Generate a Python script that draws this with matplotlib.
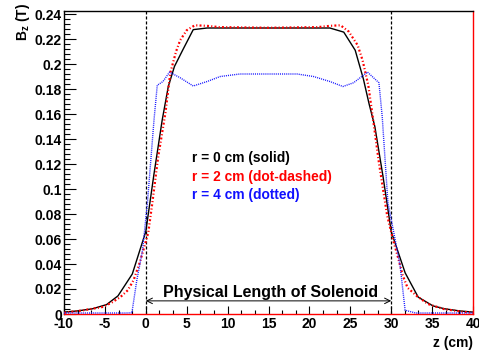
import matplotlib
matplotlib.use("Agg")
import matplotlib.pyplot as plt
from matplotlib.ticker import MultipleLocator, FixedLocator

plt.rcParams['font.family'] = ['Liberation Sans', 'DejaVu Sans']
plt.rcParams['font.weight'] = 'bold'
plt.rcParams['mathtext.fontset'] = 'custom'
plt.rcParams['mathtext.rm'] = 'Liberation Sans:bold'
plt.rcParams['mathtext.bf'] = 'Liberation Sans:bold'
plt.rcParams['mathtext.it'] = 'Liberation Sans:bold'
plt.rcParams['lines.scale_dashes'] = False

# ---- data ----
z_r0 = [-10, -8.3, -6.5, -4.8, -3.4, -1.65, 0, 1.0, 2.0, 2.75, 3.5, 4.5, 5.8, 7.5, 10, 15,
        20, 22.5, 24.2, 25.6, 26.6, 27.3, 28, 29, 30, 31.7, 33.3, 35.1, 36.5, 38.3, 40]
b_r0 = [0.0015, 0.0025, 0.0042, 0.0075, 0.0145, 0.032, 0.066, 0.112, 0.155, 0.182, 0.198,
        0.211, 0.2275, 0.2288, 0.2288, 0.2288, 0.2288, 0.2288, 0.2255, 0.211, 0.188, 0.168,
        0.150, 0.110, 0.066, 0.033, 0.0135, 0.0065, 0.0042, 0.0025, 0.0015]

z_r2 = [-10, -7.6, -5.3, -4.2, -3.1, -2.2, -1.5, -0.8, -0.3, 0.3, 0.8, 1.5, 2.4, 3.0, 3.7,
        4.2, 5.0, 6.0, 7.5, 9, 15, 21, 22.5, 23.8, 24.8, 25.9, 26.5, 27.2, 27.8, 28.5, 29.5,
        30.2, 30.8, 31.4, 32.0, 33.2, 34.5, 36.4, 38.5, 40]
b_r2 = [0.001, 0.003, 0.0056, 0.009, 0.0136, 0.019, 0.027, 0.040, 0.051, 0.065, 0.089,
        0.125, 0.161, 0.193, 0.210, 0.219, 0.227, 0.231, 0.2305, 0.2295, 0.229, 0.2295,
        0.2305, 0.231, 0.226, 0.215, 0.203, 0.183, 0.155, 0.121, 0.079, 0.060, 0.046,
        0.031, 0.021, 0.014, 0.008, 0.004, 0.002, 0.001]

z_r4 = [-10, -5, -2.5, -1.7, -1.1, -0.4, 0.2, 1.0, 1.4, 2.1, 2.9, 4.2, 5.8, 7.5, 9.1, 11.5,
        15, 18.5, 20.5, 22.5, 24.1, 25.4, 27.1, 28.5, 28.9, 29.6, 30.5, 31.1, 31.7, 33, 40]
b_r4 = [0.0008, 0.0008, 0.0008, 0.001, 0.027, 0.051, 0.089, 0.155, 0.183, 0.186, 0.1935,
        0.189, 0.1824, 0.186, 0.190, 0.192, 0.192, 0.192, 0.190, 0.186, 0.182, 0.185,
        0.1935, 0.185, 0.158, 0.089, 0.059, 0.038, 0.003, 0.0008, 0.0008]

legend_texts = ["r = 0 cm (solid)", "r = 2 cm (dot-dashed)", "r = 4 cm (dotted)"]
legend_colors = ["black", "red", "#1010ff"]
solenoid_start, solenoid_end = 0, 30
x_ticks = [-10, -5, 0, 5, 10, 15, 20, 25, 30, 35, 40]
x_ticklabels = ["-10", "-5", "0", "5", "10", "15", "20", "25", "30", "35", "40"]
y_ticks = [0, 0.02, 0.04, 0.06, 0.08, 0.10, 0.12, 0.14, 0.16, 0.18, 0.20, 0.22, 0.24]
y_ticklabels = ["0", "0.02", "0.04", "0.06", "0.08", "0.1", "0.12", "0.14", "0.16",
                "0.18", "0.2", "0.22", "0.24"]

W, H = 479, 353
fig = plt.figure(figsize=(W / 100, H / 100), dpi=100)
ax = fig.add_axes([64 / W, 1 - 314 / H, (473 - 64) / W, (314 - 11) / H])
ax.set_xlim(-10, 40)
ax.set_ylim(0, 0.2424)

ax.plot(z_r0, b_r0, color='black', lw=1.0, zorder=3)
ax.plot(z_r2, b_r2, color='red', lw=1.6, linestyle=(0, (1.4, 1.6, 0.8, 1.6)), zorder=3)
ax.plot(z_r4, b_r4, color='#1a1aff', lw=1.0, linestyle=(0, (0.75, 0.75)), zorder=3)

for zv in (solenoid_start, solenoid_end):
    ax.axvline(zv, color='black', lw=0.9, linestyle=(0, (2.2, 1.4)), zorder=2)

ax.annotate('', xy=(solenoid_start, 0.0105), xytext=(solenoid_end, 0.0105),
            arrowprops=dict(arrowstyle='<->', color='black', lw=0.7,
                            shrinkA=0, shrinkB=0, mutation_scale=10))
ax.text((solenoid_start + solenoid_end) / 2 + 0.2, 0.0136, "Physical Length of Solenoid",
        ha='center', va='baseline', fontsize=11.5, fontweight='bold')

for i, (t, c) in enumerate(zip(legend_texts, legend_colors)):
    ax.text(5.7, 0.1248 - i * 0.0148, t, color=c, ha='left', va='center',
            fontsize=9.9, fontweight='bold')

ax.xaxis.set_major_locator(FixedLocator(x_ticks))
ax.set_xticklabels(x_ticklabels)
ax.xaxis.set_minor_locator(MultipleLocator(5 / 3))
ax.yaxis.set_major_locator(FixedLocator(y_ticks))
ax.set_yticklabels(y_ticklabels)
ax.yaxis.set_minor_locator(MultipleLocator(0.004))

ax.tick_params(axis='x', which='major', direction='in', length=5.8, width=0.8,
               labelsize=10, pad=2.5)
ax.tick_params(axis='x', which='minor', direction='in', length=2.9, width=0.8)
ax.tick_params(axis='y', which='major', direction='in', length=8.6, width=0.8,
               labelsize=10, pad=1.5)
ax.tick_params(axis='y', which='minor', direction='in', length=4.3, width=0.8)
for lab in ax.get_xticklabels() + ax.get_yticklabels():
    lab.set_fontweight('bold')

for s in ('left', 'top'):
    ax.spines[s].set_color('black')
for s in ('right', 'bottom'):
    ax.spines[s].set_color('red')
for s in ax.spines.values():
    s.set_linewidth(1.0)

fig.text(473 / W, 1 - 343 / H, "z (cm)", ha='right', va='center', fontsize=10,
         fontweight='bold')
fig.text(23 / W, 1 - 3 / H, r"B$_{\mathrm{z}}$ (T)", rotation=90, ha='center', va='top',
         fontsize=10, fontweight='bold')

fig.savefig("out.png", dpi=100)
